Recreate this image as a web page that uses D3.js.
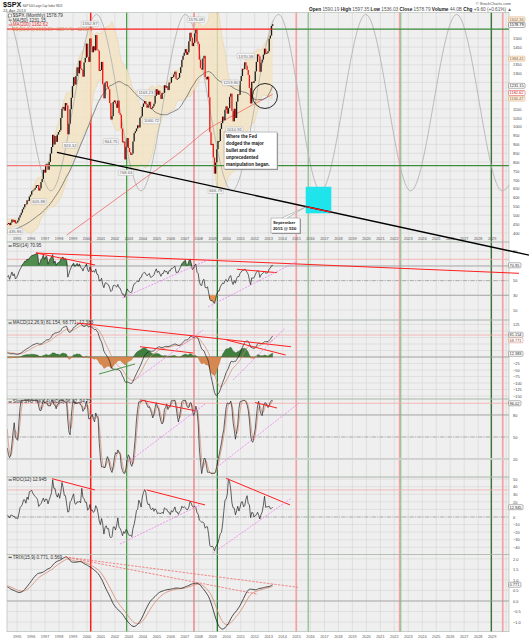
<!DOCTYPE html>
<html><head><meta charset="utf-8">
<script src="https://cdn.jsdelivr.net/npm/d3@7/dist/d3.min.js"></script>
<style>
html,body{margin:0;padding:0;background:#fff;}
svg{display:block;font-family:"Liberation Sans",Arial,Helvetica,sans-serif;}
</style></head><body>
<svg id="chart" width="529" height="640"></svg>
<script>
// ================= DATA =================
const firstYear = 1990;          // closes start Jan 1990 (earlier months only warm up the indicators)
const displayFrom = 51;          // Apr 1994 = first bar drawn
const closes = [
 329.1,331.9,339.9,330.8,361.2,358.0,356.2,322.6,306.1,304.0,322.2,330.2,
 343.9,367.1,375.2,375.3,389.8,371.2,387.8,395.4,387.9,392.5,375.2,417.1,
 408.8,412.7,403.7,414.9,415.4,408.1,424.2,414.0,417.8,418.7,431.4,435.7,
 438.8,443.4,451.7,440.2,450.2,450.5,448.1,463.6,458.9,467.8,461.8,466.5,
 481.6,467.1,445.8,450.9,456.5,444.3,458.3,475.5,462.7,472.4,454.0,459.3,
 470.4,487.4,500.7,514.7,533.4,544.8,562.1,561.9,584.4,581.5,605.4,615.9,
 636.0,640.4,645.5,654.2,669.1,670.6,639.9,652.0,687.3,705.3,757.0,740.7,
 786.2,790.8,757.1,801.3,848.3,885.1,954.3,899.5,947.3,914.6,955.4,970.4,
 980.3,1049.3,1101.8,1111.8,1090.8,1133.8,1120.7,957.3,1017.0,1098.7,1163.6,1229.2,
 1279.6,1238.3,1286.4,1335.2,1301.8,1372.7,1328.7,1320.4,1282.7,1362.9,1389.0,1469.3,
 1394.5,1366.4,1498.6,1452.4,1420.6,1454.6,1430.8,1517.7,1436.5,1429.4,1315.0,1320.3,
 1366.0,1239.9,1160.3,1249.5,1255.8,1224.4,1211.2,1133.6,1040.9,1059.8,1139.5,1148.1,
 1130.2,1106.7,1147.4,1076.9,1067.1,989.8,911.6,916.1,815.3,885.8,936.3,879.8,
 855.7,841.2,848.2,916.9,963.6,974.5,990.3,1008.0,996.0,1050.7,1058.2,1111.9,
 1131.1,1144.9,1126.2,1107.3,1120.7,1140.8,1101.7,1104.2,1114.6,1130.2,1173.8,1211.9,
 1181.3,1203.6,1180.6,1156.9,1191.5,1191.3,1234.2,1220.3,1228.8,1207.0,1249.5,1248.3,
 1280.1,1280.7,1294.9,1310.6,1270.1,1270.2,1276.7,1303.8,1335.9,1377.9,1400.6,1418.3,
 1438.2,1406.8,1420.9,1482.4,1530.6,1503.4,1455.3,1474.0,1526.8,1549.4,1481.1,1468.4,
 1378.6,1330.6,1322.7,1385.6,1400.4,1280.0,1267.4,1282.8,1166.4,968.8,896.2,903.3,
 825.9,735.1,797.9,872.8,919.1,919.3,987.5,1020.6,1057.1,1036.2,1095.6,1115.1,
 1073.9,1104.5,1169.4,1186.7,1089.4,1030.7,1101.6,1049.3,1141.2,1183.3,1180.6,1257.6,
 1286.1,1327.2,1325.8,1363.6,1345.2,1320.6,1292.3,1218.9,1131.4,1253.3,1247.0,1257.6,
 1312.4,1365.7,1408.5,1397.9,1310.3,1362.2,1379.3,1406.6,1440.7,1412.2,1416.2,1426.2,
 1498.1,1514.7,1569.2,1578.8
];
// MA(200)
const ma200Points = [[1998.55,388],[2000.5,500],[2002.5,615],[2004.5,730],[2006.5,845],[2008.8,993],[2010.5,1065],[2012.0,1130],[2013.29,1182.6]];
// grey cycle curve: alternating crests / troughs
const cycleExtremes = [[1990.9,638],[1994.13,1634],[1997.42,638],[2000.68,1634],[2003.87,638],[2007.05,1634],[2010.38,638],[2013.71,1634],[2016.73,638],[2019.95,1634],[2023.17,638],[2026.46,1634],[2029.71,638],[2032.95,1634]];
const redCycleDates = [2000.265, 2007.66, 2014.98, 2022.38, 2029.76];
const greenCycleDates = [2002.84, 2009.33, 2015.84, 2022.46, 2028.94];
const priceLevels = [{v:1551, redUntil:2013.31}, {v:780, redUntil:1997.35}];
const supportLine = [[1997.85,855],[2031.64,275]];
const targetSegment = [2015.75, 2017.47];
const targetZone = {t0:2015.655, t1:2017.49, v0:511, v1:661};
const circleMark = {t:2012.74, v:1173.5};
const fedNote = {t:2009.81, v:970, lines:["Where the Fed","dodged the major","bullet and the","unprecedented","manipulation began."]};
const septNote = {t:2013.17, v:484.5, target:[2015.70,549], lines:["September","2015 @ 550"]};
const extremeLabels = [
 {t:1994.29,v:435.86,pos:"below"},{t:1996.54,v:605.88,pos:"below"},{t:1998.79,v:923.32,pos:"below"},
 {t:2000.21,v:1552.87,pos:"above"},{t:2001.71,v:944.75,pos:"below"},{t:2002.79,v:768.63,pos:"below"},
 {t:2004.21,v:1163.23,pos:"above"},{t:2004.62,v:1060.72,pos:"below"},{t:2007.79,v:1576.09,pos:"above"},
 {t:2009.21,v:666.79,pos:"below"},{t:2010.29,v:1219.80,pos:"above"},{t:2010.54,v:1010.91,pos:"below"},
 {t:2011.37,v:1370.58,pos:"above"}
];
const yearTicks = d3.range(1995, 2030);
const priceTicks = d3.range(400, 1551, 50);
const rsiTicks = [10,30,50,70,90];
const macdTicks = [-150,-125,-100,-75,-50,-25,0,25,50,75,100,125];
const stoTicks = [20,50,80];
const rocTicks = [-40,-30,-20,-10,0,10,20,30,40,50];
const trixTicks = [-1.0,-0.5,0.0,0.5,1.0,1.5,2.0];
// drawn trend lines on the indicators [date, value]
const rsiRedLines = [[[1996.35,87.7],[2030.92,60.0]],[[1996.35,87.7],[2000.57,71.4]],[[2010.74,65.5],[2013.60,60.9]]];
const rsiPinkLines = [[[2002.51,26.3],[2008.80,79.5]],[[2008.66,14.1],[2014.94,75.5]]];
const macdRedLines = [[[1999.28,130.8],[2014.60,39.6]],[[2010.00,65.4],[2014.22,7.7]],[[2003.79,39.6],[2007.59,15.4]]];
const macdGreenLines = [[[2000.86,-65.4],[2003.44,-26.9]]];
const macdPinkLines = [[[2003.44,-88.5],[2008.30,103.8]],[[2010.45,-88.5],[2014.17,110.4]]];
const stoRedLines = [[[2003.79,100.5],[2007.73,85.9]],[[2012.03,97.0],[2013.60,89.5]]];
const stoPinkLines = [[[2002.86,14.5],[2008.45,95.0]],[[2009.31,9.0],[2015.18,96.4]]];
const rocRedLines = [[[1997.49,50.6],[2000.57,35.7]],[[2004.27,35.7],[2008.45,15.9]],[[2009.95,51.1],[2014.53,15.9]]];
const rocPinkLines = [[[2002.36,-35.7],[2008.09,15.9]],[[2009.02,-47.6],[2014.62,24.7]]];
const trixDashedLines = [[[1998.43,2.085],[2015.10,0.649]],[[1998.43,2.085],[2012.24,0.318]]];
const indicatorLevels = {rsi:79.1, macd:84.6, sto:96.0, roc:35.7};
const legendTexts = {
 rsi:"RSI(14) 70.95", macd:"MACD(12,26,9) 81.154, 68.771, 12.383",
 sto:"Slow STO %K(14) %D(3) 96.02, 94.73", roc:"ROC(12) 12.945", trix:"TRIX(15,9) 0.771, 0.569"
};
const lastValues = {rsi:70.95, macd:[81.154,68.771,12.383], sto:96.02, roc:12.945, trix:0.771, ma50:1231.15, ma200:1182.62, close:1578.79};

// ================= INDICATORS (derived from closes) =================
const N = closes.length;
const tOf = i => firstYear + (i + 0.5) / 12;
const sma = (a, n) => a.map((v, i) => {
  if (i < n - 1) return null; const s = a.slice(i - n + 1, i + 1);
  if (s.some(d => d == null)) return null; return d3.mean(s);
});
const ema = (a, n) => { const k = 2 / (n + 1); let p = null;
  return a.map(v => { if (v == null) return null; p = p == null ? v : p + k * (v - p); return p; }); };
const ma50 = sma(closes, 50);
const bbMid = sma(closes, 20);
const bbSd = closes.map((v, i) => i < 19 ? null : d3.deviation(closes.slice(i - 19, i + 1)) * Math.sqrt(19 / 20));
const bbUp = bbMid.map((m, i) => m == null ? null : m + 2 * bbSd[i]);
const bbLo = bbMid.map((m, i) => m == null ? null : m - 2 * bbSd[i]);
const rsi = (() => { const n = 14, out = new Array(N).fill(null); let g = 0, l = 0;
  for (let i = 1; i <= n; i++) { const d = closes[i] - closes[i - 1]; if (d > 0) g += d; else l -= d; }
  g /= n; l /= n; out[n] = 100 - 100 / (1 + g / l);
  for (let i = n + 1; i < N; i++) { const d = closes[i] - closes[i - 1];
    g = (g * (n - 1) + Math.max(d, 0)) / n; l = (l * (n - 1) + Math.max(-d, 0)) / n;
    out[i] = l === 0 ? 100 : 100 - 100 / (1 + g / l); }
  return out; })();
const e12 = ema(closes, 12), e26 = ema(closes, 26);
const macd = closes.map((v, i) => e12[i] - e26[i]);
const macdSig = ema(macd, 9);
const macdHist = macd.map((v, i) => v - macdSig[i]);
const fastK = closes.map((c, i) => { if (i < 13) return null; const s = closes.slice(i - 13, i + 1);
  const lo = d3.min(s), hi = d3.max(s); return hi === lo ? 50 : (c - lo) / (hi - lo) * 100; });
const slowK = sma(fastK, 3), slowD = sma(slowK, 3);
const roc = closes.map((c, i) => i < 12 ? null : (c / closes[i - 12] - 1) * 100);
const t3 = ema(ema(ema(closes, 15), 15), 15);
const trix = t3.map((v, i) => i === 0 ? null : (v / t3[i - 1] - 1) * 100);
const trixSig = ema(trix, 9);

// ================= LAYOUT / SCALES =================
const L = 7, R = 509;
const svg = d3.select("#chart");
const x = d3.scaleLinear().domain([1994.273, 2030.208]).range([L, R]);
const P = {
  main: {top: 12.5, bot: 242}, rsi: {top: 242, bot: 320}, macd: {top: 320, bot: 399},
  sto: {top: 399, bot: 477}, roc: {top: 477, bot: 554.3}, trix: {top: 554.3, bot: 631.7}
};
const Y = {
  main: d3.scaleLinear().domain([349, 1645]).range([P.main.bot, P.main.top]),
  rsi: d3.scaleLinear().domain([-3.7, 102.7]).range([P.rsi.bot, P.rsi.top]),
  macd: d3.scaleLinear().domain([-161.5, 142.3]).range([P.macd.bot, P.macd.top]),
  sto: d3.scaleLinear().domain([-4.6, 101.8]).range([P.sto.bot, P.sto.top]),
  roc: d3.scaleLinear().domain([-49.3, 52.8]).range([P.roc.bot, P.roc.top]),
  trix: d3.scaleLinear().domain([-1.455, 2.213]).range([P.trix.bot, P.trix.top])
};
const TICKS = {main: priceTicks, rsi: rsiTicks, macd: macdTicks, sto: stoTicks, roc: rocTicks, trix: trixTicks};
const defs = svg.append("defs");
Object.entries(P).forEach(([k, p]) => {
  defs.append("clipPath").attr("id", "clip-" + k).append("rect")
    .attr("x", L).attr("y", p.top).attr("width", R - L).attr("height", p.bot - p.top);
});

// backgrounds & grids
const gBg = svg.append("g");
Object.entries(P).forEach(([k, p]) => {
  gBg.append("rect").attr("x", L).attr("y", p.top).attr("width", R - L).attr("height", p.bot - p.top)
    .attr("fill", "#efefef");
  const g = gBg.append("g").attr("clip-path", `url(#clip-${k})`);
  g.selectAll("line.v").data(d3.range(1995, 2031)).join("line")
    .attr("x1", d => x(d)).attr("x2", d => x(d)).attr("y1", p.top).attr("y2", p.bot)
    .attr("stroke", "#d5d5d5").attr("stroke-width", 0.6);
  g.selectAll("line.h").data(TICKS[k]).join("line")
    .attr("x1", L).attr("x2", R).attr("y1", d => Y[k](d)).attr("y2", d => Y[k](d))
    .attr("stroke", "#d5d5d5").attr("stroke-width", 0.6);
});

// cycle lines through every panel
const gCyc = svg.append("g");
const redStyle = [["#ff1a1a",1.5],["#ee7070",1.2],["#f3a3a3",1.7],["#f3a3a3",1.7],["#f3a3a3",1.7]];
const greenStyle = [["#3b9a3b",1.2],["#23782a",1.3],["#98c598",1.5],["#94c294",1.2],["#2c6e2c",1.3]];
gCyc.selectAll("line.r").data(redCycleDates).join("line")
  .attr("x1", d => x(d)).attr("x2", d => x(d)).attr("y1", P.main.top).attr("y2", P.trix.bot)
  .attr("stroke", (d, i) => redStyle[i][0]).attr("stroke-width", (d, i) => redStyle[i][1]);
gCyc.selectAll("line.g").data(greenCycleDates).join("line")
  .attr("x1", d => x(d)).attr("x2", d => x(d)).attr("y1", P.main.top).attr("y2", P.trix.bot)
  .attr("stroke", (d, i) => greenStyle[i][0]).attr("stroke-width", (d, i) => greenStyle[i][1]);

// ================= MAIN PANEL =================
const yM = Y.main;
const gMain = svg.append("g").attr("clip-path", "url(#clip-main)");
const shown = d3.range(displayFrom, N);
const ser = arr => shown.map(i => ({t: tOf(i), v: arr[i]}));
gMain.append("path").datum(shown)
  .attr("d", d3.area().x(i => x(tOf(i))).y0(i => yM(bbLo[i])).y1(i => yM(bbUp[i])))
  .attr("fill", "#f2e3c2").attr("opacity", 0.85);
[bbUp, bbLo].forEach(a => gMain.append("path").datum(ser(a))
  .attr("d", d3.line().x(d => x(d.t)).y(d => yM(d.v)))
  .attr("fill", "none").attr("stroke", "#e8d3a6").attr("stroke-width", 0.6));
gMain.append("path").datum(cycleExtremes)
  .attr("d", d3.line().curve(d3.curveMonotoneX).x(d => x(d[0])).y(d => yM(d[1])))
  .attr("fill", "none").attr("stroke", "#b4b4b4").attr("stroke-width", 0.9);
gMain.append("path").datum(ma200Points)
  .attr("d", d3.line().curve(d3.curveMonotoneX).x(d => x(d[0])).y(d => yM(d[1])))
  .attr("fill", "none").attr("stroke", "#f05a5a").attr("stroke-width", 0.7);
gMain.append("path").datum(ser(ma50))
  .attr("d", d3.line().defined(d => d.v != null).x(d => x(d.t)).y(d => yM(d.v)))
  .attr("fill", "none").attr("stroke", "#6a6a6a").attr("stroke-width", 0.8);
gMain.selectAll("rect.bar").data(shown).join("rect")
  .attr("x", i => x(tOf(i)) - 0.65).attr("width", 1.3)
  .attr("y", i => yM(Math.max(closes[i], closes[i - 1])))
  .attr("height", i => Math.max(0.9, Math.abs(yM(closes[i]) - yM(closes[i - 1]))))
  .attr("fill", i => closes[i] >= closes[i - 1] ? "#1a1a1a" : "#f01414");
// horizontal levels
priceLevels.forEach(lv => {
  gMain.append("line").attr("x1", L).attr("x2", x(lv.redUntil)).attr("y1", yM(lv.v)).attr("y2", yM(lv.v))
    .attr("stroke", lv.v > 1000 ? "#ff2020" : "#f07a7a").attr("stroke-width", 1.3);
  gMain.append("line").attr("x1", x(lv.redUntil)).attr("x2", R).attr("y1", yM(lv.v)).attr("y2", yM(lv.v))
    .attr("stroke", "#3c8c3c").attr("stroke-width", 1.3);
});
// extreme labels
const gLab = svg.append("g").attr("font-size", 4.2).attr("fill", "#666");
extremeLabels.forEach(d => {
  const txt = d.v.toFixed(2), w = txt.length * 2.2 + 2;
  let cx = Math.max(x(d.t), L + w / 2 + 0.5);
  const cy = yM(d.v) + (d.pos === "above" ? -5 : 5);
  gLab.append("rect").attr("x", cx - w / 2).attr("y", cy - 2.8).attr("width", w).attr("height", 5.6)
    .attr("fill", "#f6f6f6").attr("stroke", "#a9a9a9").attr("stroke-width", 0.4).attr("rx", 0.8);
  gLab.append("text").attr("x", cx).attr("y", cy + 1.5).attr("text-anchor", "middle").text(txt);
});
// x labels (inside main panel bottom and below the last panel)
const gXL = svg.append("g").attr("font-size", 3.8).attr("fill", "#555").attr("text-anchor", "middle");
gXL.selectAll("text.a").data(yearTicks).join("text").attr("x", d => x(d)).attr("y", 239.6).text(d => d);
gXL.selectAll("text.b").data(yearTicks).join("text").attr("x", d => x(d)).attr("y", 638.3).text(d => d);

// ================= INDICATOR PANELS =================
function lineIn(key, arr, color, w) {
  svg.append("g").attr("clip-path", `url(#clip-${key})`).append("path").datum(ser(arr))
    .attr("d", d3.line().defined(d => d.v != null && !isNaN(d.v)).x(d => x(d.t)).y(d => Y[key](d.v)))
    .attr("fill", "none").attr("stroke", color).attr("stroke-width", w);
}
function hLine(key, v, color, w, dash) {
  const l = svg.append("line").attr("x1", L).attr("x2", R).attr("y1", Y[key](v)).attr("y2", Y[key](v))
    .attr("stroke", color).attr("stroke-width", w);
  if (dash) l.attr("stroke-dasharray", dash);
}
const dashDot = "4,1.3,1,1.3";
// RSI
hLine("rsi", 70, "#9a9a9a", 0.8); hLine("rsi", 30, "#9a9a9a", 0.8); hLine("rsi", 50, "#8a8a8a", 0.6, dashDot);
hLine("rsi", indicatorLevels.rsi, "#f2a8a8", 0.8);
{ const g = svg.append("g").attr("clip-path", "url(#clip-rsi)"), yy = Y.rsi, s = ser(rsi);
  g.append("path").datum(s).attr("d", d3.area().x(d => x(d.t)).y0(yy(70)).y1(d => yy(Math.max(d.v, 70)))).attr("fill", "#4f8d4f");
  g.append("path").datum(s).attr("d", d3.area().x(d => x(d.t)).y0(yy(30)).y1(d => yy(Math.min(d.v, 30)))).attr("fill", "#e8904c"); }
lineIn("rsi", rsi, "#222", 0.7);
// MACD
hLine("macd", 0, "#9a9a9a", 0.8); hLine("macd", indicatorLevels.macd, "#f2a8a8", 0.8);
{ const g = svg.append("g").attr("clip-path", "url(#clip-macd)"), yy = Y.macd, s = ser(macdHist);
  g.append("path").datum(s).attr("d", d3.area().x(d => x(d.t)).y0(yy(0)).y1(d => yy(Math.max(d.v, 0)))).attr("fill", "#3f7e3f").attr("stroke", "#2d5f2d").attr("stroke-width", 0.3);
  g.append("path").datum(s).attr("d", d3.area().x(d => x(d.t)).y0(yy(0)).y1(d => yy(Math.min(d.v, 0)))).attr("fill", "#d6884e").attr("stroke", "#a8622e").attr("stroke-width", 0.3); }
lineIn("macd", macdSig, "#d9876e", 0.7);
lineIn("macd", macd, "#222", 0.7);
// STO
hLine("sto", 80, "#9a9a9a", 0.8); hLine("sto", 50, "#8a8a8a", 0.6, dashDot); hLine("sto", 20, "#cfcfcf", 1.8);
hLine("sto", indicatorLevels.sto, "#f2a8a8", 0.8);
lineIn("sto", slowD, "#d9876e", 0.7);
lineIn("sto", slowK, "#222", 0.7);
// ROC
hLine("roc", 0, "#8a8a8a", 0.6, dashDot); hLine("roc", indicatorLevels.roc, "#f2a8a8", 0.8);
lineIn("roc", roc, "#222", 0.7);
// TRIX
hLine("trix", 0, "#9a9a9a", 0.8);
lineIn("trix", trixSig, "#d9876e", 0.8);
lineIn("trix", trix, "#222", 0.8);

// panel borders
Object.values(P).forEach(p => svg.append("rect").attr("x", L).attr("y", p.top).attr("width", R - L)
  .attr("height", p.bot - p.top).attr("fill", "none").attr("stroke", "#aab5aa").attr("stroke-width", 0.6));

// ================= RIGHT VALUE BOXES & AXES =================
const boxes = [];
function vbox(key, v, txt, stroke, fill, color) { boxes.push({key, y: Y[key](v), txt, stroke, fill, color}); }
const last = N - 1, f2 = d3.format(".2f");
vbox("main", bbUp[last], f2(bbUp[last]), "#d8a878", "#fbeedd", "#8a6a4a");
vbox("main", lastValues.close, f2(lastValues.close), "#555", "#fff", "#000");
vbox("main", bbMid[last], f2(bbMid[last]), "#d8a878", "#fbeedd", "#8a6a4a");
vbox("main", lastValues.ma50, f2(lastValues.ma50), "#666", "#fff", "#222");
vbox("main", lastValues.ma200, f2(lastValues.ma200), "#e04040", "#fff", "#c01010");
vbox("main", bbLo[last], f2(bbLo[last]), "#d8a878", "#fbeedd", "#8a6a4a");
vbox("rsi", lastValues.rsi, "70.95", "#666", "#fff", "#222");
vbox("macd", lastValues.macd[0], "81.154", "#666", "#fff", "#222");
vbox("macd", lastValues.macd[1], "68.771", "#d9876e", "#fff", "#8a4a3a");
vbox("macd", lastValues.macd[2], "12.383", "#666", "#fff", "#222");
vbox("sto", lastValues.sto, "96.02", "#666", "#fff", "#222");
vbox("roc", lastValues.roc, "12.945", "#666", "#fff", "#222");
vbox("trix", lastValues.trix, "0.771", "#666", "#fff", "#222");
const BOXH = 5.0, GAP = 5.6;
d3.groups(boxes, b => b.key).forEach(([k, arr]) => {
  arr.sort((a, b) => a.y - b.y);
  for (let it = 0; it < 30; it++) for (let i = 1; i < arr.length; i++) {
    const gap = arr[i].y - arr[i - 1].y;
    if (gap < GAP) { const m = (GAP - gap) / 2; arr[i].y += m; arr[i - 1].y -= m; }
  }
});
const gAx = svg.append("g");
Object.keys(P).forEach(k => {
  const taken = boxes.filter(b => b.key === k).map(b => b.y);
  const free = TICKS[k].filter(v => taken.every(yb => Math.abs(Y[k](v) - yb) > 4.8));
  const ax = d3.axisRight(Y[k]).tickValues(free).tickSize(0).tickPadding(4)
    .tickFormat(k === "trix" ? d3.format(".1f") : d3.format("d"));
  const g = gAx.append("g").attr("transform", `translate(${R},0)`).call(ax);
  g.select(".domain").remove();
  g.selectAll("text").attr("font-size", 3.9).attr("fill", "#444").attr("font-family", "Liberation Sans, Arial, sans-serif");
});
const gBox = svg.append("g").attr("font-size", 3.9);
boxes.forEach(b => {
  const w = b.txt.length * 2.05 + 2.2;
  gBox.append("rect").attr("x", 508.5).attr("y", b.y - BOXH / 2).attr("width", w).attr("height", BOXH).attr("rx", 1)
    .attr("fill", b.fill).attr("stroke", b.stroke).attr("stroke-width", 0.5);
  gBox.append("text").attr("x", 509.6).attr("y", b.y + 1.4).attr("fill", b.color).text(b.txt);
});

// ================= LEGENDS & TITLES =================
const gLeg = svg.append("g").attr("font-size", 4.6).attr("fill", "#333");
function legendLine(y, color, txt, txtColor) {
  gLeg.append("line").attr("x1", 8.5).attr("x2", 11.8).attr("y1", y - 1.4).attr("y2", y - 1.4).attr("stroke", color).attr("stroke-width", 0.9);
  gLeg.append("text").attr("x", 12.8).attr("y", y).attr("fill", txtColor || "#333").text(txt);
}
gLeg.append("rect").attr("x", 8.6).attr("y", 14).attr("width", 3).attr("height", 3).attr("fill", "#fff").attr("stroke", "#555").attr("stroke-width", 0.5);
gLeg.append("text").attr("x", 12.8).attr("y", 16.8).text("$SPX (Monthly) " + f2(lastValues.close));
legendLine(21.6, "#666", "MA(50) " + f2(lastValues.ma50));
legendLine(26.4, "#f05050", "MA(200) " + f2(lastValues.ma200), "#e03030");
legendLine(31.2, "#e0b080", `BB(20,2.0) ${f2(bbUp[last])} - ${f2(bbMid[last])} - ${f2(bbLo[last])}`, "#d89a68");
legendLine(P.rsi.top + 5.4, "#222", legendTexts.rsi);
legendLine(P.macd.top + 4.4, "#222", legendTexts.macd);
legendLine(P.sto.top + 4.4, "#222", legendTexts.sto);
legendLine(P.roc.top + 4.4, "#222", legendTexts.roc);
legendLine(P.trix.top + 4.4, "#222", legendTexts.trix);

svg.append("text").attr("x", 3).attr("y", 7).attr("font-size", 7.2).attr("font-weight", "bold").attr("fill", "#111").text("$SPX");
svg.append("text").attr("x", 22.5).attr("y", 6.6).attr("font-size", 4.4).attr("fill", "#444")
  .attr("textLength", 40).attr("lengthAdjust", "spacingAndGlyphs").text("S&P 500 Large Cap Index INDX");
svg.append("text").attr("x", 3).attr("y", 11.8).attr("font-size", 4.1).attr("fill", "#555").text("24-Apr-2013");
svg.append("text").attr("x", 511).attr("y", 5.4).attr("font-size", 4.1).attr("fill", "#555").attr("text-anchor", "end").text("© StockCharts.com");
{ const t = svg.append("text").attr("x", 512).attr("y", 10.9).attr("font-size", 4.7).attr("fill", "#333").attr("text-anchor", "end");
  const parts = [["Open ", 1], ["1590.19 ", 0], ["High ", 1], ["1597.35 ", 0], ["Low ", 1], ["1536.03 ", 0], ["Close ", 1], ["1578.79 ", 0], ["Volume ", 1], ["44.0B ", 0], ["Chg ", 1], ["+9.60 (+0.61%) ▲", 0]];
  parts.forEach(([s, b]) => t.append("tspan").attr("font-weight", b ? "bold" : "normal").attr("fill", b ? "#222" : "#555").text(s)); }

// ================= ANNOTATIONS (top layer) =================
const gAnn = svg.append("g");
function segs(key, list, color, w, dash) {
  list.forEach(s => { const l = gAnn.append("line").attr("x1", x(s[0][0])).attr("y1", Y[key](s[0][1]))
    .attr("x2", x(s[1][0])).attr("y2", Y[key](s[1][1])).attr("stroke", color).attr("stroke-width", w);
    if (dash) l.attr("stroke-dasharray", dash); });
}
segs("rsi", rsiRedLines, "#ff1f1f", 1.0);
segs("rsi", rsiPinkLines, "#f07ef0", 0.8, "2,1.2");
segs("macd", macdRedLines, "#ff1f1f", 1.0);
segs("macd", macdGreenLines, "#3a8a3a", 0.9);
segs("macd", macdPinkLines, "#f07ef0", 0.8, "2,1.2");
segs("sto", stoRedLines, "#ff1f1f", 1.0);
segs("sto", stoPinkLines, "#f07ef0", 0.8, "2,1.2");
segs("roc", rocRedLines, "#ff1f1f", 1.0);
segs("roc", rocPinkLines, "#f07ef0", 0.8, "2,1.2");
segs("trix", trixDashedLines, "#f07070", 0.8, "2.5,1.2");

gAnn.append("circle").attr("cx", x(circleMark.t)).attr("cy", yM(circleMark.v)).attr("r", 12.5)
  .attr("fill", "none").attr("stroke", "#111").attr("stroke-width", 0.9);
gAnn.append("rect").attr("x", x(targetZone.t0)).attr("y", yM(targetZone.v1))
  .attr("width", x(targetZone.t1) - x(targetZone.t0)).attr("height", yM(targetZone.v0) - yM(targetZone.v1))
  .attr("fill", "#1fe4ec");
const lineVal = t => supportLine[0][1] + (t - supportLine[0][0]) * (supportLine[1][1] - supportLine[0][1]) / (supportLine[1][0] - supportLine[0][0]);
gAnn.append("line").attr("x1", x(supportLine[0][0])).attr("y1", yM(supportLine[0][1]))
  .attr("x2", x(supportLine[1][0])).attr("y2", yM(supportLine[1][1])).attr("stroke", "#000").attr("stroke-width", 1.3);
gAnn.append("line").attr("x1", x(targetSegment[0])).attr("y1", yM(lineVal(targetSegment[0])))
  .attr("x2", x(targetSegment[1])).attr("y2", yM(lineVal(targetSegment[1]))).attr("stroke", "#ff1a1a").attr("stroke-width", 1.3);
function note(n, w, h, fs, lh) {
  const x0 = x(n.t), y0 = yM(n.v);
  gAnn.append("rect").attr("x", x0 + 1).attr("y", y0 + 1).attr("width", w).attr("height", h).attr("fill", "#9a9a9a");
  gAnn.append("rect").attr("x", x0).attr("y", y0).attr("width", w).attr("height", h).attr("fill", "#fff").attr("stroke", "#8a8a8a").attr("stroke-width", 0.5);
  n.lines.forEach((s, i) => gAnn.append("text").attr("x", x0 + 2).attr("y", y0 + 6.2 + i * lh)
    .attr("font-size", fs).attr("font-weight", "bold").attr("fill", "#111").text(s));
  return [x0, y0];
}
note(fedNote, 53, 37, 4.5, 7);
{ const [sx, sy] = note(septNote, 29, 15, 4.3, 6.2);
  gAnn.append("path").attr("d", `M${sx + 11},${sy} L${x(septNote.target[0])},${yM(septNote.target[1])} L${sx + 16},${sy}`)
    .attr("fill", "#fff").attr("stroke", "#8a8a8a").attr("stroke-width", 0.5); }
</script>
</body></html>
